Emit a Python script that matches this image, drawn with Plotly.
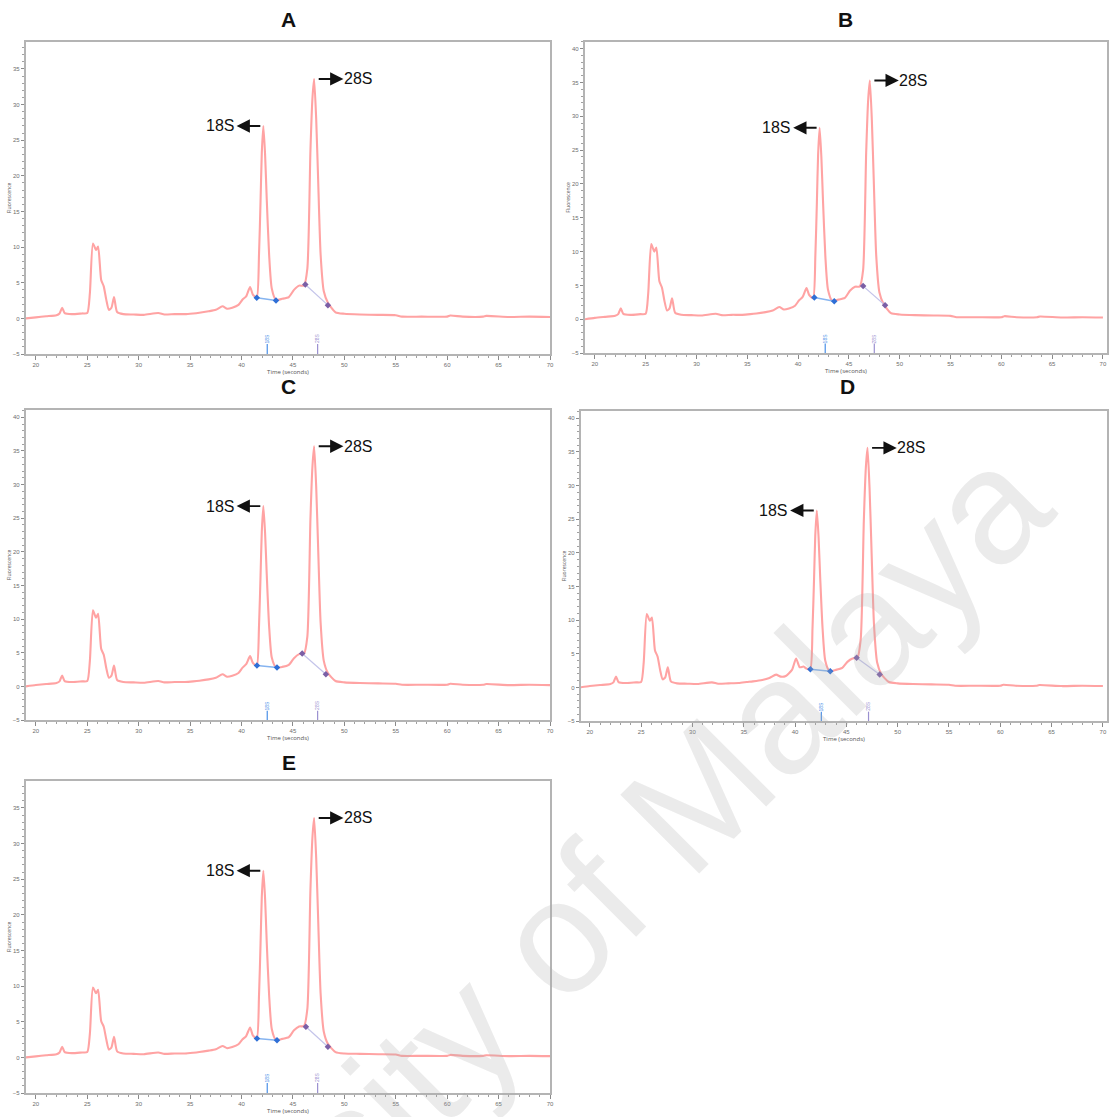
import plotly.graph_objects as go

W, H = 1113, 1117

# ---------------------------------------------------------------- data
PANELS = ["A", "B", "C", "D", "E"]

# migration time (s), shared sampling grid for all five electropherograms
TIME_S = [
    19.0, 20.0, 21.0, 22.0, 22.3, 22.55, 22.8, 23.5, 24.5, 25.0,
    25.25, 25.55, 25.85, 26.05, 26.35, 26.6, 26.85, 27.1, 27.35, 27.6,
    27.9, 28.5, 29.5, 30.5, 31.9, 32.5, 33.5, 34.5, 35.3, 35.9,
    36.8, 37.5, 38.15, 38.6, 39.1, 39.7, 40.1, 40.45, 40.83, 41.1,
    41.48, 41.7, 41.85, 41.97, 42.12, 42.29, 42.45, 42.68, 42.94, 43.35,
    43.96, 44.6, 45.1, 45.6, 46.07, 46.4, 46.7, 46.9, 47.06, 47.26,
    47.45, 47.69, 48.0, 48.4, 49.14, 50.0, 51.5, 53.3, 55.0, 55.6,
    57.5, 60.0, 60.3, 61.5, 63.5, 63.8, 66.0, 68.0, 70.0,
]

# fluorescence units
FLUOR_A = [
    0.0, 0.15, 0.3, 0.45, 0.7, 1.5, 0.75, 0.6, 0.7, 0.75,
    3.5, 10.5, 9.6, 10.1, 5.4, 4.5, 2.6, 1.2, 1.5, 3.0,
    0.9, 0.6, 0.55, 0.5, 0.75, 0.55, 0.6, 0.6, 0.7, 0.8,
    1.0, 1.2, 1.7, 1.35, 1.5, 1.9, 2.65, 3.1, 4.4, 3.35,
    2.9, 9.0, 16.5, 23.2, 27.0, 23.0, 16.8, 9.0, 4.2, 2.6,
    2.75, 3.0, 4.0, 4.6, 4.6, 7.0, 23.5, 31.0, 33.6, 28.0,
    19.5, 9.0, 3.8, 2.2, 0.85, 0.65, 0.55, 0.5, 0.45, 0.25,
    0.25, 0.25, 0.4, 0.25, 0.25, 0.35, 0.2, 0.25, 0.2,
]
FLUOR_B = [
    0.0, 0.2, 0.35, 0.5, 0.75, 1.6, 0.8, 0.65, 0.75, 0.8,
    3.8, 11.1, 10.0, 10.6, 5.6, 4.7, 2.7, 1.3, 1.6, 3.1,
    0.95, 0.65, 0.6, 0.55, 0.8, 0.6, 0.65, 0.65, 0.75, 0.85,
    1.05, 1.3, 1.8, 1.45, 1.6, 2.0, 2.8, 3.3, 4.6, 3.55,
    3.1, 9.4, 17.3, 24.3, 28.3, 24.0, 17.6, 9.4, 4.4, 2.75,
    2.9, 3.15, 4.2, 4.8, 4.85, 7.3, 24.6, 32.5, 35.3, 29.4,
    20.4, 9.4, 4.0, 2.3, 0.9, 0.7, 0.6, 0.55, 0.5, 0.3,
    0.3, 0.3, 0.45, 0.3, 0.3, 0.4, 0.25, 0.3, 0.25,
]
FLUOR_C = [
    0.0, 0.2, 0.35, 0.5, 0.75, 1.6, 0.8, 0.65, 0.75, 0.8,
    3.8, 11.3, 10.2, 10.8, 5.6, 4.7, 2.7, 1.3, 1.6, 3.1,
    0.95, 0.65, 0.6, 0.55, 0.8, 0.6, 0.65, 0.65, 0.75, 0.85,
    1.05, 1.3, 1.8, 1.45, 1.6, 2.0, 2.8, 3.3, 4.5, 3.5,
    3.05, 9.0, 16.5, 23.0, 26.8, 22.8, 16.7, 9.0, 4.3, 2.85,
    2.9, 3.2, 4.2, 4.8, 4.85, 7.4, 24.8, 32.8, 35.7, 29.7,
    20.6, 9.5, 3.8, 2.0, 0.8, 0.6, 0.5, 0.45, 0.4, 0.25,
    0.25, 0.25, 0.4, 0.25, 0.25, 0.35, 0.2, 0.25, 0.2,
]
FLUOR_D = [
    0.0, 0.2, 0.35, 0.5, 0.75, 1.6, 0.8, 0.65, 0.75, 0.8,
    3.7, 10.9, 9.9, 10.4, 5.5, 4.6, 2.6, 1.2, 1.5, 3.0,
    0.9, 0.6, 0.55, 0.5, 0.75, 0.55, 0.6, 0.65, 0.8, 0.9,
    1.1, 1.4, 1.9, 1.6, 1.7, 2.6, 4.3, 3.0, 3.1, 2.8,
    2.7, 8.8, 16.1, 22.6, 26.3, 22.4, 16.3, 8.8, 4.0, 2.45,
    2.6, 2.9, 3.8, 4.3, 4.4, 7.2, 24.7, 32.7, 35.6, 29.6,
    20.5, 9.4, 3.7, 2.0, 0.8, 0.6, 0.5, 0.45, 0.4, 0.25,
    0.25, 0.25, 0.4, 0.25, 0.25, 0.35, 0.2, 0.25, 0.2,
]
FLUOR_E = [
    0.0, 0.15, 0.3, 0.45, 0.7, 1.5, 0.75, 0.6, 0.7, 0.75,
    3.3, 9.8, 9.0, 9.5, 5.1, 4.3, 2.5, 1.1, 1.4, 2.9,
    0.85, 0.55, 0.5, 0.45, 0.7, 0.5, 0.55, 0.55, 0.65, 0.75,
    0.95, 1.15, 1.6, 1.3, 1.45, 1.85, 2.55, 3.0, 4.2, 3.1,
    2.66, 8.7, 16.0, 22.5, 26.2, 22.3, 16.2, 8.8, 4.0, 2.45,
    2.6, 2.85, 3.8, 4.35, 4.4, 6.8, 23.5, 31.0, 33.6, 28.0,
    19.5, 9.0, 3.6, 1.9, 0.75, 0.55, 0.5, 0.45, 0.4, 0.22,
    0.22, 0.22, 0.35, 0.22, 0.22, 0.3, 0.18, 0.22, 0.18,
]
FLUOR = [FLUOR_A, FLUOR_B, FLUOR_C, FLUOR_D, FLUOR_E]

# integration baselines under the 18S and 28S peaks (start, end)
BL18_T = [[41.48, 43.35], [41.60, 43.56], [41.50, 43.45], [41.49, 43.43], [41.50, 43.45]]
BL18_V = [[2.90, 2.50], [3.20, 2.65], [3.10, 2.80], [2.70, 2.40], [2.66, 2.40]]
BL28_T = [[46.20, 48.40], [46.40, 48.56], [45.90, 48.20], [46.00, 48.25], [46.26, 48.40]]
BL28_V = [[4.75, 1.86], [4.90, 2.07], [4.90, 1.80], [4.40, 1.93], [4.30, 1.50]]

# peak-call markers below the trace
MARK18_T = [42.50, 42.67, 42.50, 42.56, 42.50]
MARK28_T = [47.40, 47.50, 47.40, 47.16, 47.40]

# ---------------------------------------------------------------- layout
# plot areas in page pixels: left, right, top, bottom
BOXES = [(26, 552, 42, 355), (587, 1111, 42, 354), (26, 552, 411, 722),
         (583, 1111, 412, 723), (26, 552, 783, 1096)]
TITLE_Y = [20, 20, 388, 388, 765]
TITLE_X = [290, 849, 290, 851, 290]
X_RANGE = [(19.03, 70.0), (19.02, 70.4), (19.03, 70.0), (19.13, 70.4), (19.03, 70.0)]
Y_RANGE = [(-5, 38.8), (-5, 41.0), (-5, 41.1), (-5, 41.1), (-5, 38.8)]

TRACE_COLOR = "#ffa3a3"
BLUE = "#2f6fd6"
BLUE_LINE = "#86b4f0"
PURPLE = "#7b5fa6"
PURPLE_LINE = "#c4c4ea"
AX_COLOR = "#b4b4b4"
TICK_FONT = dict(family="Liberation Sans, Arial, sans-serif", size=6, color="#6e6e6e")
LABEL_FONT = "Liberation Sans Narrow, Liberation Sans, Arial, sans-serif"


def px_x(p):
    return p / W


def px_y(p):
    return 1 - p / H


fig = go.Figure()
annotations = []
layout_axes = {}

for i, name in enumerate(PANELS):
    k = "" if i == 0 else str(i + 1)
    xa, ya = "x" + k, "y" + k
    l, r, t, b = BOXES[i]
    vals = FLUOR[i]

    # electropherogram trace
    fig.add_trace(go.Scatter(x=TIME_S, y=vals, mode="lines", xaxis=xa, yaxis=ya,
                             line=dict(color=TRACE_COLOR, width=2.1, shape="spline",
                                       smoothing=0.6),
                             showlegend=False, hoverinfo="skip"))
    # peak baselines
    fig.add_trace(go.Scatter(x=BL18_T[i], y=BL18_V[i], mode="lines+markers", xaxis=xa, yaxis=ya,
                             line=dict(color=BLUE_LINE, width=1.5),
                             marker=dict(color=BLUE, size=5, symbol="diamond"),
                             showlegend=False, hoverinfo="skip"))
    fig.add_trace(go.Scatter(x=BL28_T[i], y=BL28_V[i], mode="lines+markers", xaxis=xa, yaxis=ya,
                             line=dict(color=PURPLE_LINE, width=1.2),
                             marker=dict(color=PURPLE, size=5, symbol="diamond"),
                             showlegend=False, hoverinfo="skip"))

    # peak-call ticks rising from the time axis
    ylo = Y_RANGE[i][0]
    for mt, col, lab in ((MARK18_T[i], "#4a90e8", "18S"), (MARK28_T[i], "#9a90d0", "28S")):
        fig.add_trace(go.Scatter(x=[mt, mt], y=[ylo, ylo + 1.4], mode="lines", xaxis=xa, yaxis=ya,
                                 line=dict(color=col, width=1.2), showlegend=False,
                                 hoverinfo="skip"))
        annotations.append(dict(xref=xa, yref=ya, x=mt, y=ylo + 2.2, text=lab, showarrow=False,
                                textangle=-90, font=dict(size=5, color=col,
                                                         family="Liberation Sans, Arial")))

    # locate the 18S and 28S maxima
    i18 = max((j for j, tt in enumerate(TIME_S) if 41 <= tt <= 43.5), key=lambda j: vals[j])
    i28 = max((j for j, tt in enumerate(TIME_S) if 46 <= tt <= 48.5), key=lambda j: vals[j])
    t18, v18 = TIME_S[i18], vals[i18]
    t28, v28 = TIME_S[i28], vals[i28]

    annotations.append(dict(xref=xa, yref=ya, x=t18 - 4.25, y=v18, text="18S", showarrow=False,
                            xanchor="center", yanchor="middle",
                            font=dict(size=16, color="#111", family=LABEL_FONT)))
    annotations.append(dict(xref=xa, yref=ya, axref=xa, ayref=ya, x=t18 - 2.6, y=v18,
                            ax=t18 - 0.15, ay=v18, text="", showarrow=True, arrowhead=2,
                            arrowsize=1.4, arrowwidth=1.9, arrowcolor="#111"))
    annotations.append(dict(xref=xa, yref=ya, axref=xa, ayref=ya, x=t28 + 2.85, y=v28,
                            ax=t28 + 0.3, ay=v28, text="", showarrow=True, arrowhead=2,
                            arrowsize=1.4, arrowwidth=1.9, arrowcolor="#111"))
    annotations.append(dict(xref=xa, yref=ya, x=t28 + 4.25, y=v28, text="28S", showarrow=False,
                            xanchor="center", yanchor="middle",
                            font=dict(size=16, color="#111", family=LABEL_FONT)))

    # panel letter
    annotations.append(dict(xref="paper", yref="paper", x=px_x(TITLE_X[i]), y=px_y(TITLE_Y[i]),
                            text="<b>%s</b>" % name, showarrow=False, xanchor="center",
                            yanchor="middle",
                            font=dict(size=21, color="#111", family=LABEL_FONT)))

    layout_axes["xaxis" + k] = dict(
        domain=[px_x(l), px_x(r)], range=list(X_RANGE[i]), anchor=ya,
        dtick=5, tick0=0, ticks="outside", ticklen=4, tickwidth=1, tickcolor="#8a8a8a",
        minor=dict(dtick=1, ticks="outside", ticklen=2, tickcolor="#a0a0a0"),
        showline=True, linecolor=AX_COLOR, linewidth=2, mirror=True, showgrid=False,
        zeroline=False, tickfont=TICK_FONT,
        title=dict(text="Time (seconds)", font=dict(size=6, color="#555"), standoff=1))
    layout_axes["yaxis" + k] = dict(
        domain=[px_y(b), px_y(t)], range=list(Y_RANGE[i]), anchor=xa,
        dtick=5, tick0=0, ticks="outside", ticklen=3, tickwidth=1, tickcolor="#8a8a8a",
        minor=dict(dtick=1, ticks="outside", ticklen=2, tickcolor="#a0a0a0"),
        showline=True, linecolor=AX_COLOR, linewidth=2, mirror=True, showgrid=False,
        zeroline=False, tickfont=TICK_FONT,
        title=dict(text="Fluorescence", font=dict(size=5, color="#555"), standoff=1))

# faint diagonal watermark across the lower half
annotations.append(dict(xref="paper", yref="paper", x=px_x(505), y=px_y(992),
                        text="University of Malaya", showarrow=False, textangle=-45,
                        xanchor="center", yanchor="middle",
                        font=dict(size=162, color="rgba(170,170,170,0.24)",
                                  family="Liberation Sans, Arial, sans-serif")))

fig.update_layout(
    width=W, height=H, autosize=False,
    margin=dict(l=0, r=0, t=0, b=0),
    paper_bgcolor="white", plot_bgcolor="white",
    annotations=annotations, showlegend=False,
    **layout_axes,
)

fig.write_html("out.html")
